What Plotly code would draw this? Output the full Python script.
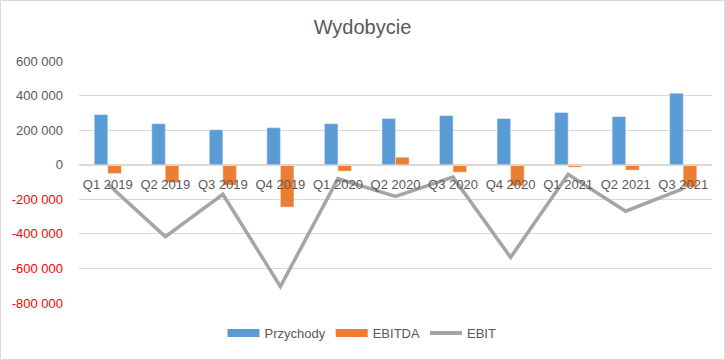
import plotly.graph_objects as go

categories = ["Q1 2019", "Q2 2019", "Q3 2019", "Q4 2019", "Q1 2020", "Q2 2020",
              "Q3 2020", "Q4 2020", "Q1 2021", "Q2 2021", "Q3 2021"]
przychody = [290000, 237000, 202000, 214000, 237000, 267000, 284000, 267000, 302000, 278000, 414000]
ebitda = [-51000, -102000, -118000, -245000, -37000, 43000, -43000, -122000, -14000, -31000, -130000]
ebit = [-112000, -416000, -171000, -705000, -81000, -184000, -72000, -536000, -56000, -269000, -139000]

y_tick_vals = [600000, 400000, 200000, 0, -200000, -400000, -600000, -800000]
y_tick_text = ["600 000", "400 000", "200 000", "0",
               "<span style='color:#FF0000'>-200 000</span>",
               "<span style='color:#FF0000'>-400 000</span>",
               "<span style='color:#FF0000'>-600 000</span>",
               "<span style='color:#FF0000'>-800 000</span>"]

FONT = "Liberation Sans"
GRAY_TXT = "#595959"
C_BLUE, C_ORANGE, C_GRAY = "#5B9BD5", "#ED7D31", "#A5A5A5"

fig = go.Figure()
fig.add_trace(go.Bar(name="Przychody", x=categories, y=przychody, marker_color=C_BLUE,
                     showlegend=False))
fig.add_trace(go.Bar(name="EBITDA", x=categories, y=ebitda, marker_color=C_ORANGE,
                     showlegend=False))
fig.add_trace(go.Scatter(name="EBIT", x=categories, y=ebit, mode="lines",
                         line=dict(color=C_GRAY, width=3.5), showlegend=False))

# legend-only entries (Excel-style wide swatches)
fig.add_trace(go.Scatter(name="Przychody", x=[None], y=[None], mode="lines",
                         line=dict(color=C_BLUE, width=8)))
fig.add_trace(go.Scatter(name="EBITDA", x=[None], y=[None], mode="lines",
                         line=dict(color=C_ORANGE, width=8)))
fig.add_trace(go.Scatter(name="EBIT", x=[None], y=[None], mode="lines",
                         line=dict(color=C_GRAY, width=4)))

fig.update_layout(
    width=725, height=360,
    margin=dict(l=79, r=13, t=61, b=57),
    paper_bgcolor="white", plot_bgcolor="white",
    font=dict(family=FONT, color=GRAY_TXT, size=13),
    title=dict(text="Wydobycie", x=0.5, xanchor="center", y=1 - 27 / 360, yanchor="middle",
               font=dict(family=FONT, size=20, color=GRAY_TXT)),
    barmode="group", bargap=0.53, bargroupgap=0,
    showlegend=True,
    legend=dict(orientation="h", x=(362 - 79) / 633, xanchor="center", y=-0.124, yanchor="middle",
                font=dict(size=13, color=GRAY_TXT), traceorder="normal", itemwidth=32),
    xaxis=dict(anchor="free", position=800000 / 1400000, showgrid=False,
               showline=True, linecolor="#D9D9D9", linewidth=1, ticks="",
               ticklabelstandoff=8, tickfont=dict(size=13, color=GRAY_TXT)),
    yaxis=dict(range=[-800000, 600000], tickvals=y_tick_vals, ticktext=y_tick_text,
               showgrid=True, gridcolor="#D9D9D9", gridwidth=1, zeroline=False,
               showline=False, ticks="", ticklabelstandoff=15,
               tickfont=dict(size=13, color=GRAY_TXT)),
)

fig.add_shape(type="rect", xref="paper", yref="paper",
              x0=-78.5 / 633, x1=1 + 12.5 / 633, y0=-56.5 / 242, y1=1 + 60.5 / 242,
              line=dict(color="#D9D9D9", width=1), fillcolor="rgba(0,0,0,0)", layer="below")

fig.write_html("out.html", config={"displayModeBar": False},
               post_script="document.body.style.margin='0';")
